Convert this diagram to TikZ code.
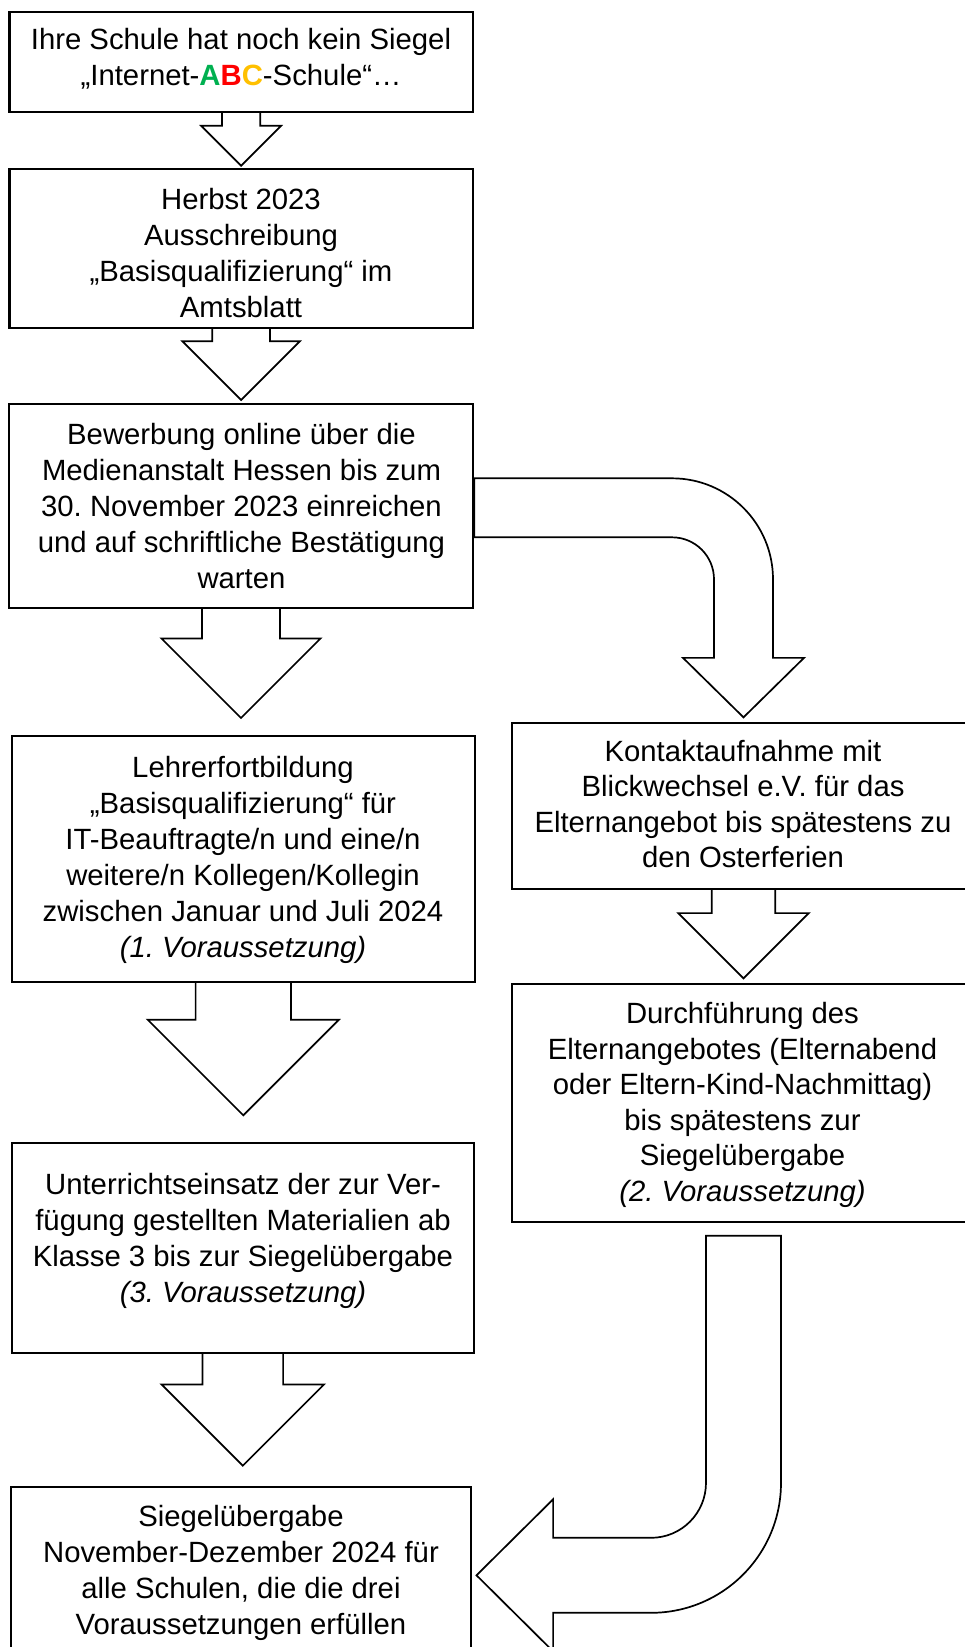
\documentclass[tikz,border=0pt]{standalone}
\usepackage{fontspec}
\setmainfont{Liberation Sans}
\usetikzlibrary{calc}
\definecolor{abcgreen}{HTML}{00B050}
\definecolor{abcred}{HTML}{FF0000}
\definecolor{abcorange}{HTML}{FFC000}
\frenchspacing
% straight block arrow: from, to, shaft half width, head half width, gap above target
\newcommand{\blockarrow}[5]{%
  \draw[barrow] ($(#1.south)+(-#3,0)$)
    -- ($(#1.south |- #2.north)+(-#3,-#5-#4)$)
    -- ($(#1.south |- #2.north)+(-#4,-#5-#4)$)
    -- ($(#1.south |- #2.north)+(0,-#5)$)
    -- ($(#1.south |- #2.north)+(#4,-#5-#4)$)
    -- ($(#1.south |- #2.north)+(#3,-#5-#4)$)
    -- ($(#1.south)+(#3,0)$);
}
\begin{document}
\begin{tikzpicture}[x=1pt,y=-1pt,
  frame/.style={draw, line width=2.3pt, inner sep=0pt, outer sep=0pt},
  txt/.style={align=center, inner sep=0pt, font=\frenchspacing\fontsize{29.3}{36}\selectfont},
  rtxt/.style={align=center, inner sep=0pt, font=\frenchspacing\fontsize{29.3}{35.6}\selectfont},
  barrow/.style={draw, line width=1.7pt, line join=miter}]
\useasboundingbox (0,0) rectangle (965,1647);
\clip (0,0) rectangle (965,1647);

% frames
\node[frame, minimum width=463.2, minimum height=100]   (b1) at (241.1,61.7) {};
\node[frame, minimum width=463.2, minimum height=158.4] (b2) at (241.1,248.5) {};
\node[frame, minimum width=463.4, minimum height=204]   (b3) at (241,506) {};
\node[frame, minimum width=463.3, minimum height=246]   (b4) at (243.3,859) {};
\node[frame, minimum width=462.3, minimum height=209.4] (b5) at (242.8,1248) {};
\node[frame, minimum width=460,   minimum height=177.2] (b6) at (240.8,1575.3) {};
\node[frame, minimum width=463,   minimum height=166.3] (r1) at (743.5,806) {};
\node[frame, minimum width=463,   minimum height=238]   (r2) at (743.5,1103.3) {};

% texts
\node[txt] (b1t) at (241,59) {Ihre Schule hat noch kein Siegel\\„Internet-\textbf{\textcolor{abcgreen}{A}\textcolor{abcred}{B}\textcolor{abcorange}{C}}-Schule“…};
\node[txt] (b2t) at (241,253) {Herbst 2023\\Ausschreibung\\„Basisqualifizierung“ im\\Amtsblatt};
\node[txt] (b3t) at (241.5,506) {Bewerbung online über die\\Medienanstalt Hessen bis zum\\30. November 2023 einreichen\\und auf schriftliche Bestätigung\\warten};
\node[txt] (b4t) at (243,860) {Lehrerfortbildung\\„Basisqualifizierung“ für\\IT-Beauftragte/n und eine/n\\weitere/n Kollegen/Kollegin\\zwischen Januar und Juli 2024\\\textit{(1. Voraussetzung)}};
\node[txt] (b5t) at (243,1241) {Unterrichtseinsatz der zur Ver-\\fügung gestellten Materialien ab\\Klasse 3 bis zur Siegelübergabe\\\textit{(3. Voraussetzung)}};
\node[txt] (b6t) at (241,1573) {Siegelübergabe\\November-Dezember 2024 für\\alle Schulen, die die drei\\Voraussetzungen erfüllen};
\node[rtxt] (r1t) at (743,804) {Kontaktaufnahme mit\\Blickwechsel e.V. für das\\Elternangebot bis spätestens zu\\den Osterferien};
\node[rtxt] (r2t) at (742.5,1105) {Durchführung des\\Elternangebotes (Elternabend\\oder Eltern-Kind-Nachmittag)\\bis spätestens zur\\Siegelübergabe\\\textit{(2. Voraussetzung)}};

% straight block arrows
\blockarrow{b1}{b2}{19.2}{40}{3.6}
\blockarrow{b2}{b3}{28.8}{58.7}{4}
\blockarrow{b3}{b4}{39}{79.5}{18}
\blockarrow{b4}{b5}{47.7}{95.5}{28}
\blockarrow{b5}{b6}{40.3}{81.3}{21}
\blockarrow{r1}{r2}{31.8}{65.2}{6}

% bent arrow b3 -> r1
\coordinate (c1) at ($(b3.east)+(1.6,1.8)$);
\coordinate (k1) at (c1 -| r1.north);
\coordinate (tipA) at ($(r1.north)+(0,-5.5)$);
\draw[barrow] ($(c1)+(0,-29.5)$) -- ($(k1)+(-71.5,-29.5)$)
  .. controls ($(k1)+(-15.7,-29.5)$) and ($(k1)+(29.5,15.7)$) .. ($(k1)+(29.5,71.5)$)
  -- ($(tipA)+(29.5,-59.5)$) -- ($(tipA)+(60.5,-59.5)$) -- (tipA)
  -- ($(tipA)+(-60.5,-59.5)$) -- ($(tipA)+(-29.5,-59.5)$)
  -- ($(k1)+(-29.5,71.5)$)
  .. controls ($(k1)+(-29.5,48.3)$) and ($(k1)+(-48.3,29.5)$) .. ($(k1)+(-71.5,29.5)$)
  -- ($(c1)+(0,29.5)$) -- cycle;

% bent arrow r2 -> b6
\coordinate (tipB) at ($(b6.east)+(5.7,0)$);
\coordinate (k2) at (tipB -| r2.south);
\coordinate (s2) at ($(r2.south)+(0,13.4)$);
\draw[barrow] ($(s2)+(-37.5,0)$) -- ($(k2)+(-37.5,-92.5)$)
  .. controls ($(k2)+(-37.5,-62.1)$) and ($(k2)+(-62.1,-37.5)$) .. ($(k2)+(-92.5,-37.5)$)
  -- ($(tipB)+(76.6,-37.5)$) -- ($(tipB)+(76.6,-76)$) -- (tipB)
  -- ($(tipB)+(76.6,76)$) -- ($(tipB)+(76.6,37.5)$)
  -- ($(k2)+(-92.5,37.5)$)
  .. controls ($(k2)+(-20.7,37.5)$) and ($(k2)+(37.5,-20.7)$) .. ($(k2)+(37.5,-92.5)$)
  -- ($(s2)+(37.5,0)$) -- cycle;
\end{tikzpicture}
\end{document}
